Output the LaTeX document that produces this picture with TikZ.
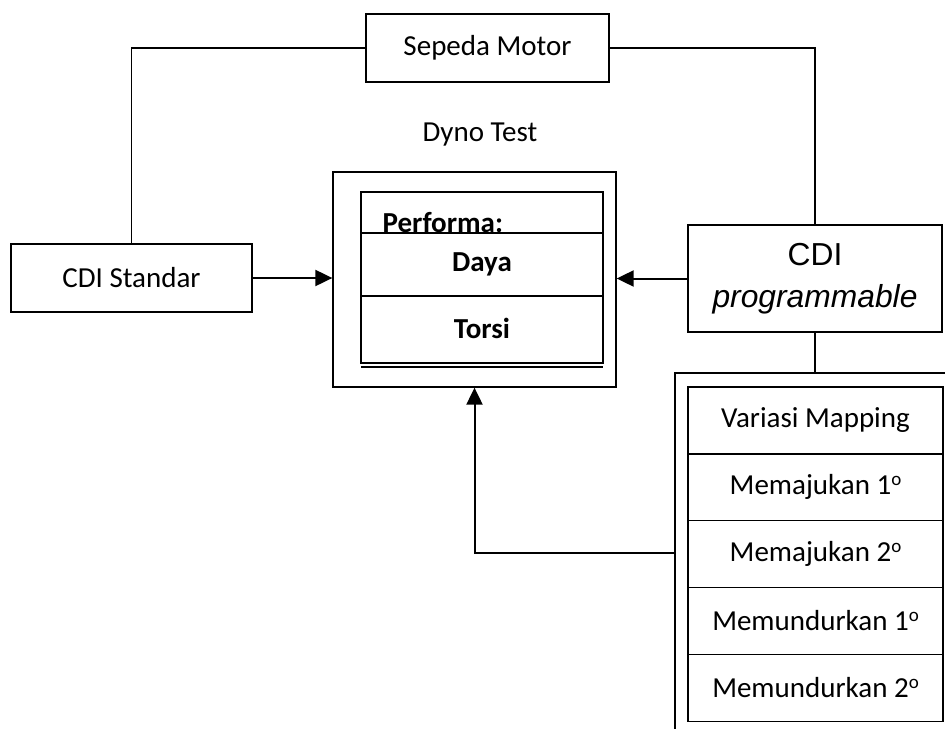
\documentclass[tikz,border=0pt]{standalone}
\usepackage{fontspec}
\setmainfont{Carlito}
\newfontfamily\arialfont{Liberation Sans}
\usetikzlibrary{arrows.meta}

\newcommand{\pxu}{0.5pt} % one pixel of the layout
\newcommand{\degmark}{\raisebox{4.6pt}{\fontsize{9.5}{10}\selectfont o}} % raised o

\begin{document}
\begin{tikzpicture}[x=\pxu, y=-\pxu, line width=0.65pt,
  every node/.style={font=\fontsize{14.5}{17.4}\selectfont},
  box/.style={draw, inner sep=0pt},
  wire/.style={line width=0.65pt},
  link/.style={line width=1pt, -{Triangle[length=8.5pt,width=8pt]}}]

\useasboundingbox (0,0) rectangle (945,728);

\node[box, minimum width=243*\pxu, minimum height=68*\pxu] (motor) at (487.5,48) {Sepeda Motor}; % Top
\node (dynolabel) at (480,135) {Dyno Test};
\node[box, minimum width=241*\pxu, minimum height=68*\pxu] (std) at (131.5,278) {CDI Standar}; % Left
\node[box, minimum width=254*\pxu, minimum height=107*\pxu, align=center,
  font=\arialfont\fontsize{15.9}{21}\selectfont] (prog) at (815,278.5) {CDI\\\textit{programmable}}; % Right

% Dyno test box
\node[box, minimum width=283*\pxu, minimum height=215*\pxu] (dyno) at (474.5,279.5) {};
\draw (361,192) rectangle (603,363); % Inner table
\draw (361,367) -- (603,367);
\draw (361,233) -- (603,233);
\draw (361,296) -- (603,296);
\node[anchor=base west, inner sep=0pt] (perf) at (382,232) {\bfseries Performa:};
\node (daya) at (482,264) {\bfseries Daya};
\node (torsi) at (482,328) {\bfseries Torsi};

% Mapping table
\coordinate (maptl) at (675,373);
\coordinate (mapjoin) at (675,553);
\draw (946,373) -- (maptl) -- (675,730);
\node[box, minimum width=255*\pxu, minimum height=67*\pxu] (map0) at (815.5,420.5) {Variasi Mapping};
\node[box, minimum width=255*\pxu, minimum height=67*\pxu] (map1) at (815.5,487) {Memajukan 1\degmark};
\node[box, minimum width=255*\pxu, minimum height=67*\pxu] (map2) at (815.5,554) {Memajukan 2\degmark};
\node[box, minimum width=255*\pxu, minimum height=67*\pxu] (map3) at (815.5,621) {Memundurkan 1\degmark};
\node[box, minimum width=255*\pxu, minimum height=67*\pxu] (map4) at (815.5,688) {Memundurkan 2\degmark};

% Connections
\draw[wire] (motor.west) -| (std.north);
\draw[wire] (motor.east) -| (prog.north);
\draw[wire] (prog.south) -- (prog.south |- maptl);
\draw[link] (std.east) -- (std.east -| dyno.west);
\draw[link] (prog.west) -- (prog.west -| dyno.east);
\draw[link] (mapjoin) -| (dyno.south);

\end{tikzpicture}
\end{document}
